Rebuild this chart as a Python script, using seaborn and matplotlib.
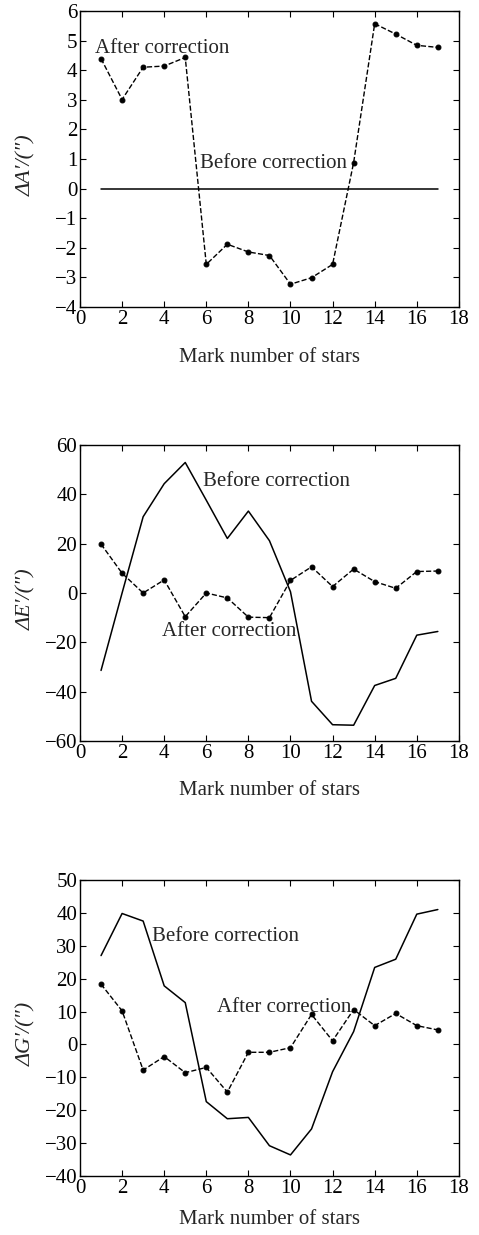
import matplotlib
matplotlib.use('Agg')
import matplotlib.pyplot as plt
import seaborn as sns

# Star mark numbers
stars = list(range(1, 18))

# Azimuth error dA'
a_before = [0] * 17
a_after = [4.39, 3.01, 4.1, 4.14, 4.43, -2.56, -1.88, -2.14, -2.26, -3.23,
           -3.01, -2.56, 0.88, 5.57, 5.22, 4.84, 4.77]

# Elevation error dE'
e_before = [-31.4, 0.0, 30.9, 44.3, 52.9, 37.6, 22.1, 33.2, 21.2, 0.5,
            -43.9, -53.4, -53.6, -37.5, -34.6, -17.1, -15.6]
e_after = [19.8, 8.0, 0.0, 5.3, -9.6, 0.0, -2.0, -9.8, -10.0, 5.1,
           10.6, 2.6, 9.7, 4.6, 1.9, 8.7, 8.9]

# Roll error dG'
g_before = [27.0, 39.8, 37.5, 17.8, 12.7, -17.4, -22.6, -22.2, -30.8, -33.6,
            -25.7, -8.3, 3.9, 23.4, 25.9, 39.6, 41.0]
g_after = [18.3, 10.2, -7.8, -3.7, -8.6, -7.0, -14.5, -2.4, -2.4, -1.0,
           9.1, 1.1, 10.6, 5.7, 9.4, 5.7, 4.4]

ylabels = ["\u0394A\u2032/(\u2033)", "\u0394E\u2032/(\u2033)", "\u0394G\u2032/(\u2033)"]
yranges = [(-4, 6, 1), (-60, 60, 20), (-40, 50, 10)]
# label positions (data coords): before, after
before_txt = [(5.7, 0.85), (5.85, 45), (3.4, 32.7)]
after_txt = [(0.7, 4.72), (3.9, -15.6), (6.5, 11.1)]

sns.set_theme(style="ticks")
plt.rcParams['font.family'] = ['Liberation Serif', 'DejaVu Serif']
FS = 15

fig = plt.figure(figsize=(4.79, 12.35), dpi=100)
bottoms = [0.7514, 0.4000, 0.0478]
xlabel_pads = [14, 13, 9]
series = [(a_before, a_after), (e_before, e_after), (g_before, g_after)]

for i in range(3):
    ax = fig.add_axes([0.167, bottoms[i], 0.791, 0.2397])
    before, after = series[i]
    sns.lineplot(x=stars, y=before, ax=ax, color='black', linewidth=1.1)
    sns.lineplot(x=stars, y=after, ax=ax, color='black', linewidth=1.0,
                 linestyle='--', marker='o', markersize=3.5,
                 markeredgecolor='black')
    lo, hi, step = yranges[i]
    ax.set_ylim(lo, hi)
    ax.set_yticks(range(lo, hi + 1, step))
    ax.set_xlim(0, 18)
    ax.set_xticks(range(0, 19, 2))
    ax.tick_params(direction='in', top=True, right=True, labelsize=FS,
                   length=4, width=0.8, colors='black', pad=2)
    for sp in ax.spines.values():
        sp.set_visible(True)
        sp.set_color('black')
        sp.set_linewidth(1.0)
    ax.set_ylabel(ylabels[i], fontsize=16, fontstyle='italic')
    ax.yaxis.set_label_coords(-0.115, 0.48)
    ax.set_xlabel("Mark number of stars", fontsize=FS, labelpad=xlabel_pads[i])
    ax.text(before_txt[i][0], before_txt[i][1], "Before correction",
            fontsize=FS, va='center', ha='left')
    ax.text(after_txt[i][0], after_txt[i][1], "After correction",
            fontsize=FS, va='center', ha='left')

fig.savefig("out.png", dpi=100)
